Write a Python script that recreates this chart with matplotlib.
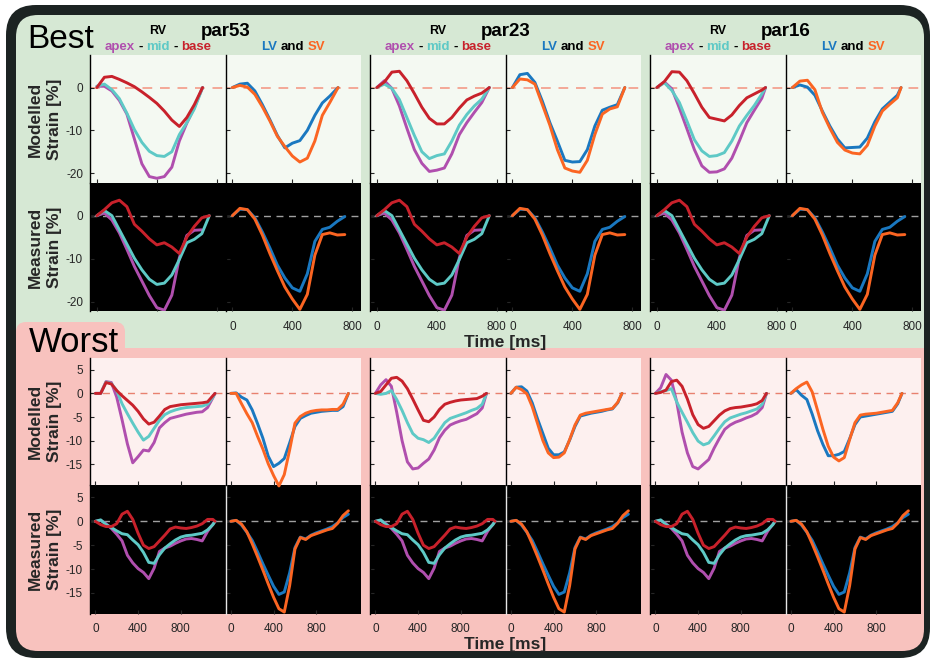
import numpy as np
import matplotlib
matplotlib.use('Agg')
import matplotlib.pyplot as plt
from matplotlib.patches import FancyBboxPatch, Rectangle

plt.rcParams['font.family'] = ['Liberation Sans', 'DejaVu Sans']
plt.rcParams['axes.unicode_minus'] = False

nan = np.nan

# ---------------- Best fit: time axes [ms] ----------------
t_best53 = [0, 50, 100, 150, 200, 250, 300, 350, 400, 450, 500, 550, 600, 650, 705]
t_best23 = [0, 50, 100, 150, 200, 250, 300, 350, 400, 450, 500, 550, 600, 650, 700, 750]
t_best16 = [0, 50, 100, 150, 200, 250, 300, 350, 400, 450, 500, 550, 600, 650, 700, 725]
t_best_meas = [0, 50, 100, 150, 200, 250, 300, 350, 400, 450, 500, 550, 600, 650, 700, 750]

# modelled strain [%], best, par53
apex_b53 = [0.3, 0.3, -0.8, -3.0, -6.2, -12.0, -17.8, -20.8, -21.2, -20.8, -18.6, -12.5, -8.3, -4.7, 0.0]
mid_b53 = [0.3, 0.8, -0.5, -2.6, -6.0, -9.8, -12.8, -14.9, -15.9, -16.1, -15.0, -11.0, -8.2, -5.0, 0.0]
base_b53 = [0.0, 2.4, 2.6, 1.9, 1.1, 0.2, -1.0, -2.3, -3.7, -5.5, -7.6, -9.1, -7.0, -4.0, 0.0]
lv_b53 = [0.0, 0.8, 1.0, -0.8, -4.0, -7.5, -11.2, -14.1, -13.0, -12.4, -10.0, -6.5, -3.6, -2.0, 0.0]
sv_b53 = [0.0, 0.5, 0.1, -1.6, -4.5, -7.8, -11.4, -13.8, -16.0, -17.4, -16.5, -12.5, -6.5, -3.5, 0.0]

# modelled strain [%], best, par23
apex_b23 = [0.0, 1.6, -0.2, -4.3, -9.5, -14.5, -17.7, -19.6, -19.3, -18.8, -15.5, -11.0, -8.2, -5.8, -3.5, 0.0]
mid_b23 = [0.0, 0.8, -0.2, -2.8, -7.0, -11.2, -15.0, -16.6, -15.9, -15.5, -12.5, -8.8, -6.3, -4.3, -2.7, 0.0]
base_b23 = [0.0, 1.3, 3.6, 3.8, 1.6, -1.4, -4.6, -7.2, -8.5, -8.5, -7.0, -4.8, -2.9, -2.0, -1.3, 0.0]
lv_b23 = [0.0, 3.0, 3.3, 1.2, -3.2, -8.2, -12.5, -17.0, -17.4, -17.3, -14.5, -9.0, -5.3, -4.6, -4.0, 0.0]
sv_b23 = [0.0, 2.0, 1.8, 0.8, -4.0, -8.8, -14.5, -18.8, -19.5, -19.8, -17.0, -11.0, -6.2, -5.0, -4.5, 0.0]

# modelled strain [%], best, par16
apex_b16 = [0.0, 1.3, -0.3, -4.8, -9.6, -14.5, -18.3, -19.8, -19.7, -19.0, -16.5, -12.5, -8.2, -5.3, -2.5, 0.0]
mid_b16 = [0.0, 1.1, -0.7, -3.5, -7.8, -12.2, -14.8, -16.1, -15.9, -15.2, -12.5, -9.0, -6.5, -4.2, -1.5, 0.0]
base_b16 = [0.0, 1.4, 3.7, 3.6, 1.6, -1.4, -4.6, -7.0, -7.4, -7.8, -6.4, -4.2, -2.4, -1.5, -0.6, 0.0]
lv_b16 = [0.0, 0.6, 0.1, -1.8, -5.5, -9.0, -12.0, -14.1, -14.0, -13.9, -11.8, -8.0, -5.0, -3.4, -1.8, 0.0]
sv_b16 = [0.0, 1.5, 1.7, -0.5, -5.8, -9.5, -12.8, -14.6, -15.3, -15.5, -13.5, -9.0, -5.5, -3.9, -2.4, 0.0]

# measured strain [%], best patient
apex_bm = [0.0, 0.6, -1.0, -4.0, -7.8, -11.8, -15.2, -18.6, -21.4, -22.0, -18.5, -9.8, -4.6, -3.4, -3.3, nan]
mid_bm = [0.0, 1.2, 0.0, -3.3, -6.6, -9.9, -12.6, -14.8, -16.0, -15.7, -13.8, -10.2, -6.3, -5.5, -4.2, 0.0]
base_bm = [0.0, 1.4, 3.0, 3.6, 2.1, -2.0, -3.6, -5.4, -6.8, -6.3, -7.3, -8.8, -5.0, -2.5, -0.5, 0.0]
lv_bm = [0.0, 1.5, 1.4, -0.5, -3.8, -7.5, -11.5, -14.5, -16.8, -17.6, -13.5, -6.0, -3.2, -2.7, -1.3, -0.2]
sv_bm = [0.0, 1.7, 1.4, -0.8, -4.5, -8.8, -12.8, -16.6, -19.4, -21.8, -18.3, -9.2, -4.4, -4.0, -4.5, -4.4]

# ---------------- Worst fit: time axes [ms] ----------------
t_worst53_rv = [0, 50, 100, 150, 200, 250, 300, 350, 400, 450, 500, 550, 600, 650, 700, 750,
                800, 850, 900, 950, 1000, 1050, 1100, 1120]
t_worst53_lv = [0, 50, 100, 150, 200, 250, 300, 350, 400, 450, 500, 550, 600, 650, 700, 750,
                800, 850, 900, 950, 1000, 1050, 1100]
t_worst_short = [0, 50, 100, 150, 200, 250, 300, 350, 400, 450, 500, 550, 600, 650, 700, 750,
                 800, 850, 900, 950, 1000, 1040]

# modelled strain [%], worst, par53
apex_w53 = [0.0, 0.0, 2.5, 2.3, -0.8, -5.6, -10.7, -14.7, -13.4, -12.0, -12.2, -10.4, -7.3, -6.2, -5.3, -5.0,
            -4.7, -4.4, -4.2, -4.0, -3.9, -3.0, -0.9, 0.0]
mid_w53 = [0.0, 0.0, 2.4, 2.1, 0.6, -2.2, -4.3, -6.3, -8.2, -9.9, -9.1, -7.4, -5.7, -4.5, -3.9, -3.5,
           -3.2, -3.0, -2.9, -2.8, -2.7, -2.3, -0.8, 0.0]
base_w53 = [0.0, 0.0, 2.3, 2.0, 0.6, -0.5, -1.5, -2.5, -3.8, -5.4, -6.5, -6.1, -4.8, -3.4, -2.8, -2.6,
            -2.4, -2.3, -2.2, -2.1, -2.0, -1.8, -0.5, 0.0]
lv_w53 = [0.0, 0.1, -0.8, -1.4, -3.5, -6.4, -9.5, -13.3, -15.5, -14.8, -13.8, -10.5, -7.0, -5.3, -4.7, -4.2,
          -4.0, -3.8, -3.7, -3.6, -3.6, -2.8, 0.0]
sv_w53 = [0.0, 0.0, -2.2, -4.3, -6.2, -9.1, -11.8, -14.9, -17.4, -19.6, -17.2, -12.0, -6.3, -4.9, -4.2, -3.8,
          -3.6, -3.5, -3.5, -3.4, -3.4, -2.3, 0.0]

# modelled strain [%], worst, par23
apex_w23 = [0.0, 1.8, 2.9, 1.5, -4.0, -10.0, -14.5, -16.0, -15.8, -14.8, -13.9, -12.0, -9.4, -7.8, -6.7, -6.2,
            -5.8, -5.5, -4.9, -4.3, -3.1, 0.0]
mid_w23 = [0.0, -0.2, 0.0, 0.6, -1.3, -3.6, -6.2, -8.5, -9.5, -9.8, -10.4, -9.5, -7.8, -6.2, -5.3, -4.9,
           -4.5, -4.1, -3.6, -3.2, -2.3, 0.0]
base_w23 = [0.0, 0.4, 1.8, 3.2, 3.4, 2.6, 1.0, -1.2, -3.5, -5.7, -6.0, -5.0, -3.4, -2.3, -1.9, -1.6,
            -1.4, -1.3, -1.2, -1.1, -0.6, 0.0]
lv_w23 = [0.0, 1.3, 1.4, 0.5, -2.0, -5.4, -8.5, -11.6, -13.0, -13.0, -12.4, -9.9, -7.0, -4.8, -4.5, -4.2,
          -4.0, -3.8, -3.5, -3.3, -2.0, 0.0]
sv_w23 = [0.0, 1.3, 0.8, -0.1, -2.8, -6.4, -10.0, -12.6, -13.6, -13.5, -12.6, -9.8, -6.7, -4.6, -4.2, -4.0,
          -3.8, -3.6, -3.4, -3.2, -1.9, 0.0]

# modelled strain [%], worst, par16
apex_w16 = [0.0, 1.2, 4.0, 2.8, -1.8, -8.2, -12.6, -15.5, -16.0, -15.0, -14.0, -11.6, -9.5, -7.6, -6.7, -6.1,
            -5.7, -5.2, -4.8, -4.2, -3.0, 0.0]
mid_w16 = [0.0, 0.4, 0.6, 1.0, -1.8, -4.0, -6.1, -8.3, -10.1, -10.9, -10.5, -9.0, -7.4, -6.0, -5.2, -4.8,
           -4.4, -4.1, -3.7, -3.3, -2.3, 0.0]
base_w16 = [0.0, 0.2, 0.7, 2.5, 2.8, 1.5, -1.2, -4.5, -6.6, -7.4, -7.0, -5.8, -4.6, -3.7, -3.2, -3.0,
            -2.9, -2.7, -2.5, -2.2, -1.5, 0.0]
lv_w16 = [0.0, 0.8, -0.4, -1.3, -4.4, -7.9, -10.8, -13.2, -13.2, -12.9, -12.3, -9.6, -6.6, -5.0, -4.8, -4.6,
          -4.4, -4.2, -4.0, -3.8, -2.2, 0.0]
sv_w16 = [0.0, 1.0, 1.8, 2.4, 0.3, -3.6, -7.6, -11.2, -13.5, -14.3, -13.6, -9.8, -6.2, -4.6, -4.4, -4.3,
          -4.2, -4.0, -3.8, -3.6, -2.0, 0.0]

# measured strain [%], worst patient
apex_wm = [0.0, 0.2, -0.5, -1.5, -2.7, -4.1, -7.1, -8.7, -9.9, -10.7, -12.0, -9.8, -6.3, -5.6, -5.2, -4.6,
           -4.1, -3.7, -3.6, -3.8, -4.1, -2.1, -0.6, 0.0]
mid_wm = [0.0, 0.3, -0.7, -1.3, -2.0, -2.6, -2.8, -3.9, -4.9, -6.5, -8.6, -8.8, -7.0, -5.6, -4.7, -3.9,
          -3.3, -3.0, -2.9, -2.7, -2.5, -1.8, -0.7, 0.0]
base_wm = [0.0, -0.7, -1.1, -1.1, -0.5, 1.5, 2.1, 0.4, -2.5, -5.0, -5.7, -5.3, -4.1, -2.9, -1.6, -1.2,
           -1.4, -1.5, -1.3, -1.0, -0.5, 0.4, 0.4, 0.0]
lv_wm = [0.0, 0.2, -0.8, -2.3, -4.0, -6.4, -8.9, -11.3, -13.6, -15.3, -14.8, -10.8, -5.5, -3.3, -3.7, -2.9,
         -2.4, -2.0, -1.6, -1.1, -0.3, 0.8, 1.5]
sv_wm = [0.0, 0.2, -0.6, -2.2, -4.7, -7.4, -10.2, -13.1, -15.9, -18.3, -19.0, -13.5, -5.8, -3.4, -3.8, -3.0,
         -2.6, -2.2, -1.8, -1.5, -0.4, 1.2, 2.2]

par_names = ['par53', 'par23', 'par16']

C_APEX, C_MID, C_BASE = '#b04fae', '#5ec9c6', '#c8212b'
C_LV, C_SV = '#1a78c0', '#fb6522'
GREEN, PINK = '#d6e8d4', '#f8c2be'
FACE_BEST, FACE_WORST = '#f4f9f2', '#fdf0ef'
FRAME = '#1c2322'
TXT = '#262626'

W, H = 930, 658
fig = plt.figure(figsize=(W / 100, H / 100), dpi=100)
fig.patch.set_facecolor('white')
bg = fig.add_axes([0, 0, 1, 1])
bg.set_xlim(0, W)
bg.set_ylim(H, 0)
bg.axis('off')


def rbox(x0, y0, x1, y1, r, color):
    bg.add_patch(FancyBboxPatch((x0, y0), x1 - x0, y1 - y0,
                                boxstyle=f"round,pad=0,rounding_size={r}",
                                fc=color, ec='none'))


# frame and coloured regions
rbox(6, 5, 930, 658, 30, FRAME)
rbox(16, 15, 924, 380, 22, GREEN)
rbox(16, 348, 924, 651, 22, PINK)
bg.add_patch(Rectangle((16, 348), 908, 60, fc=PINK, ec='none'))
rbox(16, 322, 125, 380, 10, PINK)
bg.text(27, 39, 'Best', fontsize=24, va='center', ha='left', color='black')
bg.text(29, 342, 'Worst', fontsize=25, va='center', ha='left', color='black')

PW = 135.5
GX = [90, 370, 650]


def multicolor(xc, y, parts, size, gap=3.5):
    r = fig.canvas.get_renderer()
    items = []
    for s, c in parts:
        t = bg.text(0, y, s, color=c, fontsize=size, fontweight='bold', ha='left', va='center')
        items.append((t, t.get_window_extent(renderer=r).width))
    total = sum(w for _, w in items) + gap * (len(items) - 1)
    x = xc - total / 2
    for t, w in items:
        t.set_x(x)
        x += w + gap


def make_ax(x0, y0, y1, xlim, ylim, yticks, face, show_x, show_y, spine_col):
    ax = fig.add_axes([x0 / W, 1 - y1 / H, PW / W, (y1 - y0) / H])
    ax.set_facecolor(face)
    ax.set_xlim(xlim)
    ax.set_ylim(ylim)
    ax.set_xticks([0, 400, 800])
    ax.set_yticks(yticks)
    for s in ['top', 'right', 'bottom']:
        ax.spines[s].set_visible(False)
    ax.spines['left'].set_color(spine_col)
    ax.spines['left'].set_linewidth(1.0)
    ax.tick_params(direction='in', length=3, width=0.8, color=TXT, labelsize=8.5,
                   labelcolor=TXT, labelbottom=show_x, labelleft=show_y)
    ax.tick_params(axis='x', pad=6.5)
    ax.tick_params(axis='y', pad=5)
    return ax


def draw_lines(ax, t, series, colors, zero_col, zero_lw, clip=True):
    ax.axhline(0, color=zero_col, lw=zero_lw, ls=(0, (5, 4)), zorder=1)
    for y, c in zip(series, colors):
        ax.plot(t, y, color=c, lw=2.1, solid_capstyle='round', solid_joinstyle='round',
                zorder=2, clip_on=clip)


# ---------------- Best ----------------
XL_B, YL_B, YT_B = (-46, 858), (-22.3, 7.6), [-20, -10, 0]
best_model = [
    (t_best53, [apex_b53, mid_b53, base_b53], [lv_b53, sv_b53]),
    (t_best23, [apex_b23, mid_b23, base_b23], [lv_b23, sv_b23]),
    (t_best16, [apex_b16, mid_b16, base_b16], [lv_b16, sv_b16]),
]
for gi, x0 in enumerate(GX):
    # measured
    ax = make_ax(x0, 183, 311.5, XL_B, YL_B, YT_B, 'black', gi > 0, gi == 0, 'black')
    draw_lines(ax, t_best_meas, [apex_bm, mid_bm, base_bm], [C_APEX, C_MID, C_BASE], '#a0a0a0', 1.0)
    ax = make_ax(x0 + PW, 183, 311.5, XL_B, YL_B, YT_B, 'black', True, False, 'black')
    draw_lines(ax, t_best_meas, [lv_bm, sv_bm], [C_LV, C_SV], '#a0a0a0', 1.0)
    # modelled
    t, rv, lv = best_model[gi]
    ax = make_ax(x0, 55, 183, XL_B, YL_B, YT_B, FACE_BEST, False, gi == 0, 'black')
    draw_lines(ax, t, rv, [C_APEX, C_MID, C_BASE], '#f3a897', 1.4)
    ax = make_ax(x0 + PW, 55, 183, XL_B, YL_B, YT_B, FACE_BEST, False, False, 'black')
    draw_lines(ax, t, lv, [C_LV, C_SV], '#f3a897', 1.4)

    # headings
    bg.text(x0 + PW, 31, par_names[gi], fontsize=13.5, fontweight='bold', ha='center', va='center')
    bg.text(x0 + PW / 2, 31, 'RV', fontsize=9, fontweight='bold', ha='center', va='center')
    multicolor(x0 + PW / 2, 47, [('apex', C_APEX), ('-', 'black'), ('mid', C_MID),
                                 ('-', 'black'), ('base', C_BASE)], 9.5)
    multicolor(x0 + 1.5 * PW, 47, [('LV', C_LV), ('and', 'black'), ('SV', C_SV)], 9.5)

# ---------------- Worst ----------------
XL_W, YL_W, YT_W = (-50, 1218), (-19.4, 7.6), [-15, -10, -5, 0, 5]
worst_model = [
    (t_worst53_rv, [apex_w53, mid_w53, base_w53], t_worst53_lv, [lv_w53, sv_w53]),
    (t_worst_short, [apex_w23, mid_w23, base_w23], t_worst_short, [lv_w23, sv_w23]),
    (t_worst_short, [apex_w16, mid_w16, base_w16], t_worst_short, [lv_w16, sv_w16]),
]
for gi, x0 in enumerate(GX):
    ax = make_ax(x0, 485, 614, XL_W, YL_W, YT_W, 'black', True, gi == 0, 'black')
    draw_lines(ax, t_worst53_rv, [apex_wm, mid_wm, base_wm], [C_APEX, C_MID, C_BASE], '#a0a0a0', 1.0)
    ax = make_ax(x0 + PW, 485, 614, XL_W, YL_W, YT_W, 'black', True, False, '#e6e6e6')
    draw_lines(ax, t_worst53_lv, [lv_wm, sv_wm], [C_LV, C_SV], '#a0a0a0', 1.0)

    trv, rv, tlv, lv = worst_model[gi]
    ax = make_ax(x0, 357.5, 485, XL_W, YL_W, YT_W, FACE_WORST, False, gi == 0, 'black')
    draw_lines(ax, trv, rv, [C_APEX, C_MID, C_BASE], '#e8806f', 1.0, clip=False)
    ax = make_ax(x0 + PW, 357.5, 485, XL_W, YL_W, YT_W, FACE_WORST, False, False, 'black')
    draw_lines(ax, tlv, lv, [C_LV, C_SV], '#e8806f', 1.0, clip=False)

# axis labels
for yc, lab in [(119, 'Modelled\nStrain [%]'), (247, 'Measured\nStrain [%]'),
                (421, 'Modelled\nStrain [%]'), (549.5, 'Measured\nStrain [%]')]:
    bg.text(45, yc, lab, rotation=90, fontsize=12.5, fontweight='bold', ha='center', va='center',
            multialignment='center', linespacing=1.3, color=TXT)
bg.text(505, 342, 'Time [ms]', fontsize=12.5, fontweight='bold', ha='center', va='center', color=TXT)
bg.text(505, 644, 'Time [ms]', fontsize=12.5, fontweight='bold', ha='center', va='center', color=TXT)

fig.savefig('out.png', dpi=100)
